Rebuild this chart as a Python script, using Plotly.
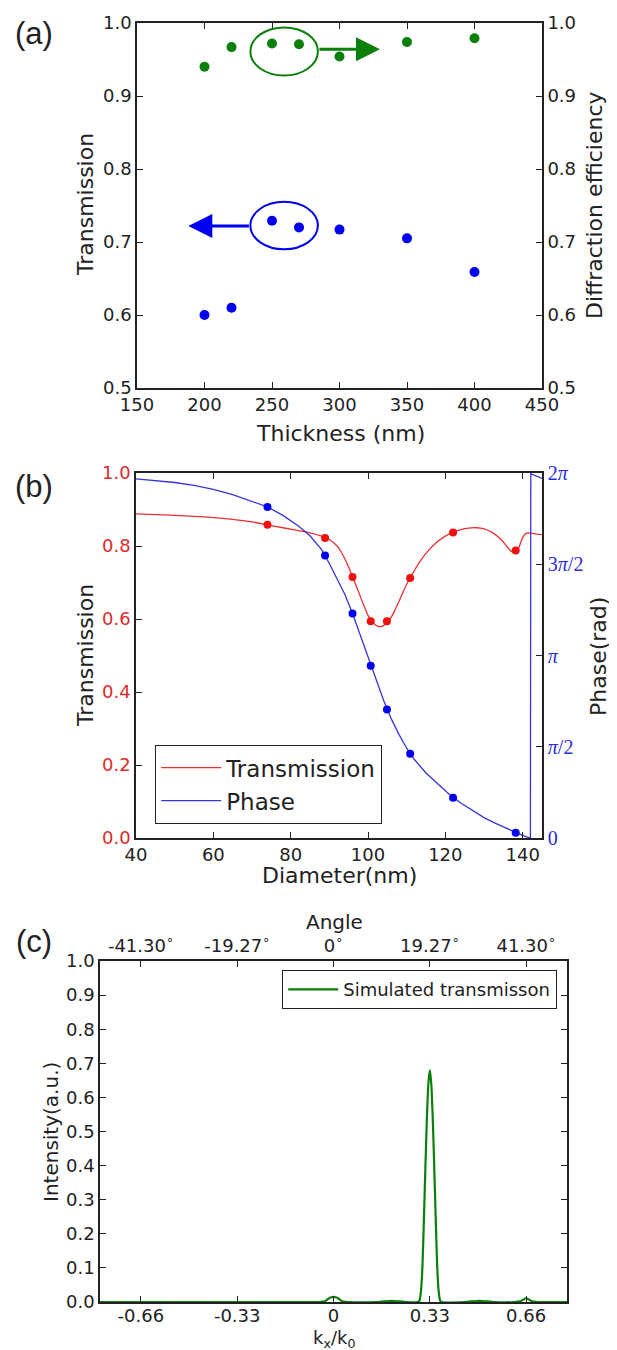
import numpy as np
import plotly.graph_objects as go

# The page body has an 8px default margin, so the figure is sized and
# positioned to land on the reference pixel grid.
W, H = 617, 1350
OFF = 8
FW, FH = W - OFF, H - OFF

# ---------------- Panel (a) data ----------------
thickness_nm = [200, 220, 250, 270, 300, 350, 400]
transmission_a = [0.600, 0.610, 0.729, 0.720, 0.717, 0.705, 0.659]
diffraction_eff = [0.940, 0.967, 0.972, 0.971, 0.954, 0.974, 0.979]
a_xticks = [150, 200, 250, 300, 350, 400, 450]
a_yticks = [0.5, 0.6, 0.7, 0.8, 0.9, 1.0]

# ---------------- Panel (b) data ----------------
diam_curve_T = [40, 45, 50, 55, 60, 65, 70, 74, 78, 82, 85, 88, 90, 92, 93, 94, 95, 96, 97,
                98, 99, 100, 101, 102, 103, 104, 105, 106, 107, 108, 109, 110, 111, 112, 114,
                116, 118, 120, 122, 124, 126, 128, 130, 132, 134, 135, 136, 137, 138, 138.5,
                139, 139.5, 140, 140.5, 141, 142, 143, 145]
trans_curve = [0.888, 0.886, 0.884, 0.881, 0.878, 0.873, 0.866, 0.858, 0.850, 0.842, 0.836,
               0.827, 0.818, 0.800, 0.785, 0.765, 0.742, 0.716, 0.690, 0.662, 0.635, 0.610,
               0.594, 0.583, 0.579, 0.582, 0.591, 0.605, 0.625, 0.648, 0.672, 0.695, 0.714,
               0.733, 0.766, 0.792, 0.812, 0.827, 0.838, 0.845, 0.849, 0.850, 0.847, 0.838,
               0.822, 0.811, 0.798, 0.786, 0.782, 0.785, 0.795, 0.810, 0.823, 0.831, 0.835,
               0.836, 0.834, 0.831]

diam_curve_P = [40, 45, 50, 55, 60, 65, 70, 74, 78, 82, 85, 88, 90, 92, 94, 96, 98, 100, 102,
                104, 106, 108, 110, 112, 115, 118, 121, 124, 127, 130, 133, 136, 138.2, 140,
                141, 142, 142.1, 145]
# phase in units of pi
phase_curve_pi = [1.968, 1.960, 1.948, 1.932, 1.910, 1.882, 1.846, 1.814, 1.768, 1.710, 1.656,
                  1.580, 1.504, 1.424, 1.336, 1.230, 1.110, 0.986, 0.868, 0.756, 0.654, 0.568,
                  0.492, 0.430, 0.356, 0.296, 0.240, 0.192, 0.150, 0.112, 0.080, 0.050, 0.029,
                  0.014, 0.006, 0.000, 1.996, 1.970]

diam_points = [74.0, 88.9, 96.0, 100.7, 104.9, 110.9, 122.0, 138.2]
trans_points = [0.858, 0.822, 0.715, 0.594, 0.594, 0.712, 0.837, 0.788]
phase_points_pi = [1.814, 1.548, 1.230, 0.944, 0.704, 0.462, 0.220, 0.029]

b_xticks = [40, 60, 80, 100, 120, 140]
b_yticks = [0.0, 0.2, 0.4, 0.6, 0.8, 1.0]
phase_ticks_pi = [0, 0.5, 1.0, 1.5, 2.0]
phase_ticktext = ["0", "<i>π</i>/2", "<i>π</i>", "3<i>π</i>/2", "2<i>π</i>"]

# ---------------- Panel (c) data ----------------
kx = [-0.80, -0.60, -0.40, -0.20, -0.05, -0.03, -0.02, -0.01, 0.00, 0.01, 0.02, 0.03, 0.05,
      0.15, 0.19, 0.21, 0.25, 0.290, 0.295, 0.300, 0.305, 0.310, 0.315, 0.320, 0.325, 0.330,
      0.335, 0.340, 0.345, 0.350, 0.355, 0.360, 0.365, 0.370, 0.45, 0.49, 0.51, 0.55, 0.62,
      0.64, 0.65, 0.66, 0.67, 0.68, 0.70, 0.80]
intensity = [0.0, 0.0, 0.0, 0.0, 0.0, 0.002, 0.008, 0.013, 0.015, 0.013, 0.008, 0.002, 0.0,
             0.0, 0.003, 0.003, 0.0, 0.0, 0.005, 0.035, 0.11, 0.25, 0.40, 0.54, 0.64, 0.68,
             0.64, 0.54, 0.40, 0.25, 0.11, 0.035, 0.005, 0.0, 0.0, 0.003, 0.003, 0.0, 0.0,
             0.002, 0.007, 0.011, 0.007, 0.002, 0.0, 0.0]
c_xticks = [-0.66, -0.33, 0, 0.33, 0.66]
c_xticktext = ["-0.66", "-0.33", "0", "0.33", "0.66"]
angle_ticktext = ["-41.30<sup>∘</sup>", "-19.27<sup>∘</sup>", "0<sup>∘</sup>",
                  "19.27<sup>∘</sup>", "41.30<sup>∘</sup>"]
c_yticks = [0.0, 0.1, 0.2, 0.3, 0.4, 0.5, 0.6, 0.7, 0.8, 0.9, 1.0]

# ---------------- colours / fonts ----------------
GREEN = "#0a800a"
BLUE = "#0000f0"
RED = "#f01010"
LINE_RED = "#e83030"
LINE_BLUE = "#3535d8"
TICK_RED = "#dd2a2a"
TICK_BLUE = "#2a2ae0"
AX = "#222222"
FONT = "DejaVu Sans"
TICKF = dict(family=FONT, size=18, color=AX)


def px_x(p):
    return (p - OFF) / FW


def px_y(p):
    return 1 - (p - OFF) / FH


dom_a_x = [px_x(137), px_x(542)]
dom_a_y = [px_y(388), px_y(23)]
dom_b_x = [px_x(136), px_x(542)]
dom_b_y = [px_y(838), px_y(473)]
dom_c_x = [px_x(100), px_x(567)]
dom_c_y = [px_y(1302), px_y(961)]

fig = go.Figure()

# (a)
fig.add_trace(go.Scatter(x=thickness_nm, y=transmission_a, mode="markers",
                         marker=dict(color=BLUE, size=10), xaxis="x", yaxis="y",
                         showlegend=False, name="Transmission"))
fig.add_trace(go.Scatter(x=thickness_nm, y=diffraction_eff, mode="markers",
                         marker=dict(color=GREEN, size=10), xaxis="x", yaxis="y2",
                         showlegend=False, name="Diffraction efficiency"))

# (b)
fig.add_trace(go.Scatter(x=diam_curve_T, y=trans_curve, mode="lines",
                         line=dict(color=LINE_RED, width=1.3, shape="spline", smoothing=0.6),
                         xaxis="x2", yaxis="y3", name="Transmission", legend="legend"))
fig.add_trace(go.Scatter(x=diam_curve_P, y=np.pi * np.array(phase_curve_pi), mode="lines",
                         line=dict(color=LINE_BLUE, width=1.3),
                         xaxis="x2", yaxis="y4", name="Phase", legend="legend"))
fig.add_trace(go.Scatter(x=diam_points, y=trans_points, mode="markers",
                         marker=dict(color=RED, size=8), xaxis="x2", yaxis="y3",
                         showlegend=False))
fig.add_trace(go.Scatter(x=diam_points, y=np.pi * np.array(phase_points_pi), mode="markers",
                         marker=dict(color=BLUE, size=8), xaxis="x2", yaxis="y4",
                         showlegend=False))

# (c)
fig.add_trace(go.Scatter(x=kx, y=intensity, mode="lines",
                         line=dict(color=GREEN, width=2.2, shape="spline", smoothing=0.5),
                         xaxis="x3", yaxis="y5", name="Simulated transmisson",
                         legend="legend2"))
fig.add_trace(go.Scatter(x=c_xticks, y=[None] * len(c_xticks), mode="lines",
                         xaxis="x4", yaxis="y5", showlegend=False, hoverinfo="skip"))

common = dict(showline=True, linecolor=AX, linewidth=1.6, ticks="inside", ticklen=6,
              tickwidth=1.2, tickcolor=AX, showgrid=False, zeroline=False,
              tickfont=TICKF, automargin=False)

layout = dict(
    width=FW, height=FH, margin=dict(l=0, r=0, t=0, b=0),
    paper_bgcolor="white", plot_bgcolor="white",
    font=dict(family=FONT, color=AX),
    xaxis=dict(domain=dom_a_x, anchor="y", range=[150, 450], tickvals=a_xticks,
               mirror="ticks", **common),
    yaxis=dict(domain=dom_a_y, anchor="x", range=[0.5, 1.0], tickvals=a_yticks,
               tickformat=".1f", **common),
    yaxis2=dict(overlaying="y", side="right", anchor="x", range=[0.5, 1.0],
                tickvals=a_yticks, tickformat=".1f", **common),
    xaxis2=dict(domain=dom_b_x, anchor="y3", range=[40, 145], tickvals=b_xticks,
                mirror="ticks", **common),
    yaxis3=dict(domain=dom_b_y, anchor="x2", range=[0, 1.0], tickvals=b_yticks,
                tickformat=".1f", **{**common, "tickfont": dict(family=FONT, size=18,
                                                                 color=TICK_RED)}),
    yaxis4=dict(overlaying="y3", side="right", anchor="x2", range=[0, 2 * np.pi],
                tickvals=[np.pi * v for v in phase_ticks_pi], ticktext=phase_ticktext,
                **{**common, "tickfont": dict(family="Liberation Serif", size=20,
                                              color=TICK_BLUE)}),
    xaxis3=dict(domain=dom_c_x, anchor="y5", range=[-0.8, 0.8], tickvals=c_xticks,
                ticktext=c_xticktext, mirror=True, ticklabelstandoff=-3, **common),
    xaxis4=dict(overlaying="x3", side="top", anchor="y5", range=[-0.8, 0.8],
                tickvals=c_xticks, ticktext=angle_ticktext, **common),
    yaxis5=dict(domain=dom_c_y, anchor="x3", range=[0, 1.0], tickvals=c_yticks,
                tickformat=".1f", mirror="ticks", **common),
    legend=dict(x=px_x(155), y=px_y(745), xanchor="left", yanchor="top",
                xref="paper", yref="paper",
                bgcolor="white", bordercolor=AX, borderwidth=1.2,
                font=dict(family=FONT, size=23, color=AX), itemwidth=60,
                tracegroupgap=0),
    legend2=dict(x=px_x(557), y=px_y(970), xanchor="right", yanchor="top",
                 xref="paper", yref="paper",
                 bgcolor="white", bordercolor=AX, borderwidth=1.2,
                 font=dict(family=FONT, size=18, color=AX), itemwidth=50),
    showlegend=True,
)
fig.update_layout(**layout)

# callout ovals and arrows in panel (a)
green_oval = dict(x0=234, x1=284, y0=0.928, y1=0.994)
blue_oval = dict(x0=234, x1=284, y0=0.690, y1=0.755)
fig.add_shape(type="circle", xref="x", yref="y", line=dict(color=GREEN, width=2),
              **green_oval)
fig.add_shape(type="circle", xref="x", yref="y", line=dict(color=BLUE, width=2),
              **blue_oval)

ann = []
ann.append(dict(x=330, y=0.964, ax=284, ay=0.964, xref="x", yref="y", axref="x", ayref="y",
                text="", showarrow=True, arrowhead=2, arrowsize=1.6, arrowwidth=3,
                arrowcolor=GREEN))
ann.append(dict(x=188, y=0.722, ax=234, ay=0.722, xref="x", yref="y", axref="x", ayref="y",
                text="", showarrow=True, arrowhead=2, arrowsize=1.6, arrowwidth=3,
                arrowcolor=BLUE))


def label(text, x, y, size=22, angle=0, family=FONT, color=AX):
    ann.append(dict(text=text, x=px_x(x), y=px_y(y), xref="paper", yref="paper",
                    showarrow=False, xanchor="center", yanchor="middle", textangle=angle,
                    font=dict(family=family, size=size, color=color)))


label("(a)", 34, 33, size=31, family="Liberation Sans")
label("(b)", 34, 487, size=31, family="Liberation Sans")
label("(c)", 34, 941, size=31, family="Liberation Sans")
label("Transmission", 85, 205, angle=-90)
label("Diffraction efficiency", 594, 205, angle=-90)
label("Thickness (nm)", 340, 433)
label("Transmission", 85, 656, angle=-90)
label("Phase(rad)", 598, 657, angle=-90)
label("Diameter(nm)", 339, 875)
label("Intensity(a.u.)", 51, 1132, size=20, angle=-90)
label("Angle", 334, 922, size=20)
label("k<sub>x</sub>/k<sub>0</sub>", 334, 1339, size=18)

fig.update_layout(annotations=ann)
fig.write_html("out.html")
